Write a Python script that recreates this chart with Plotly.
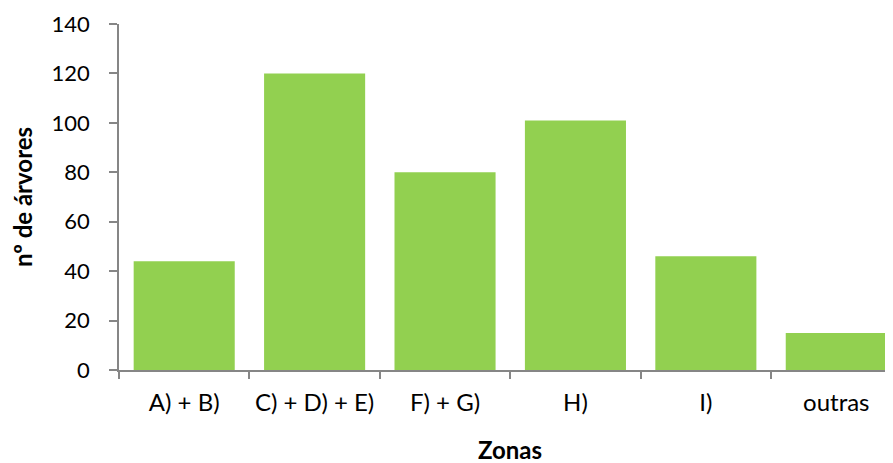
import plotly.graph_objects as go

categories = ["A) + B)", "C) + D) + E)", "F) + G)", "H)", "I)", "outras"]
values = [44, 120, 80, 101, 46, 15]
y_ticks = [0, 20, 40, 60, 80, 100, 120, 140]

FONT = "Lato"
# page body has an 8px margin, so the figure is offset by 8px
W, H = 885, 455
L, T, B = 111, 16, 93
PW, PH = W - L, H - T - B

fig = go.Figure(go.Bar(x=categories, y=values, marker=dict(color="#92D050", line=dict(width=0)),
                       width=0.775))

fig.update_layout(
    width=W, height=H,
    margin=dict(l=L, r=0, t=T, b=B, autoexpand=False),
    paper_bgcolor="white", plot_bgcolor="white",
    font=dict(family=FONT, size=22, color="#000000"),
    showlegend=False,
    bargap=0.225,
)
fig.update_xaxes(
    type="category",
    range=[-0.5, 5.435],
    automargin=False,
    showline=True, linecolor="#868686", linewidth=1.5,
    ticks="outside", ticklen=7, tickcolor="#868686", tickwidth=1.5,
    tickson="boundaries",
    ticklabelstandoff=10,
    showgrid=False, zeroline=False,
    tickfont=dict(family=FONT, size=24, color="#000000"),
)
fig.update_yaxes(
    range=[0, 140], tickvals=y_ticks,
    automargin=False,
    showline=True, linecolor="#868686", linewidth=1.5,
    ticks="outside", ticklen=8, tickcolor="#868686", tickwidth=1.5,
    ticklabelstandoff=15,
    showgrid=False, zeroline=False,
    tickfont=dict(family=FONT, size=22, color="#000000"),
)
fig.add_annotation(text="<b>nº de árvores</b>", xref="paper", yref="paper",
                   x=(14 - L) / PW, y=0.5, xanchor="center", yanchor="middle",
                   textangle=-90, showarrow=False, font=dict(family=FONT, size=24))
fig.add_annotation(text="<b>Zonas</b>", xref="paper", yref="paper",
                   x=(502 - L) / PW, y=-(441 - (T + PH)) / PH, xanchor="center", yanchor="middle",
                   showarrow=False, font=dict(family=FONT, size=24))

fig.write_html("out.html")
